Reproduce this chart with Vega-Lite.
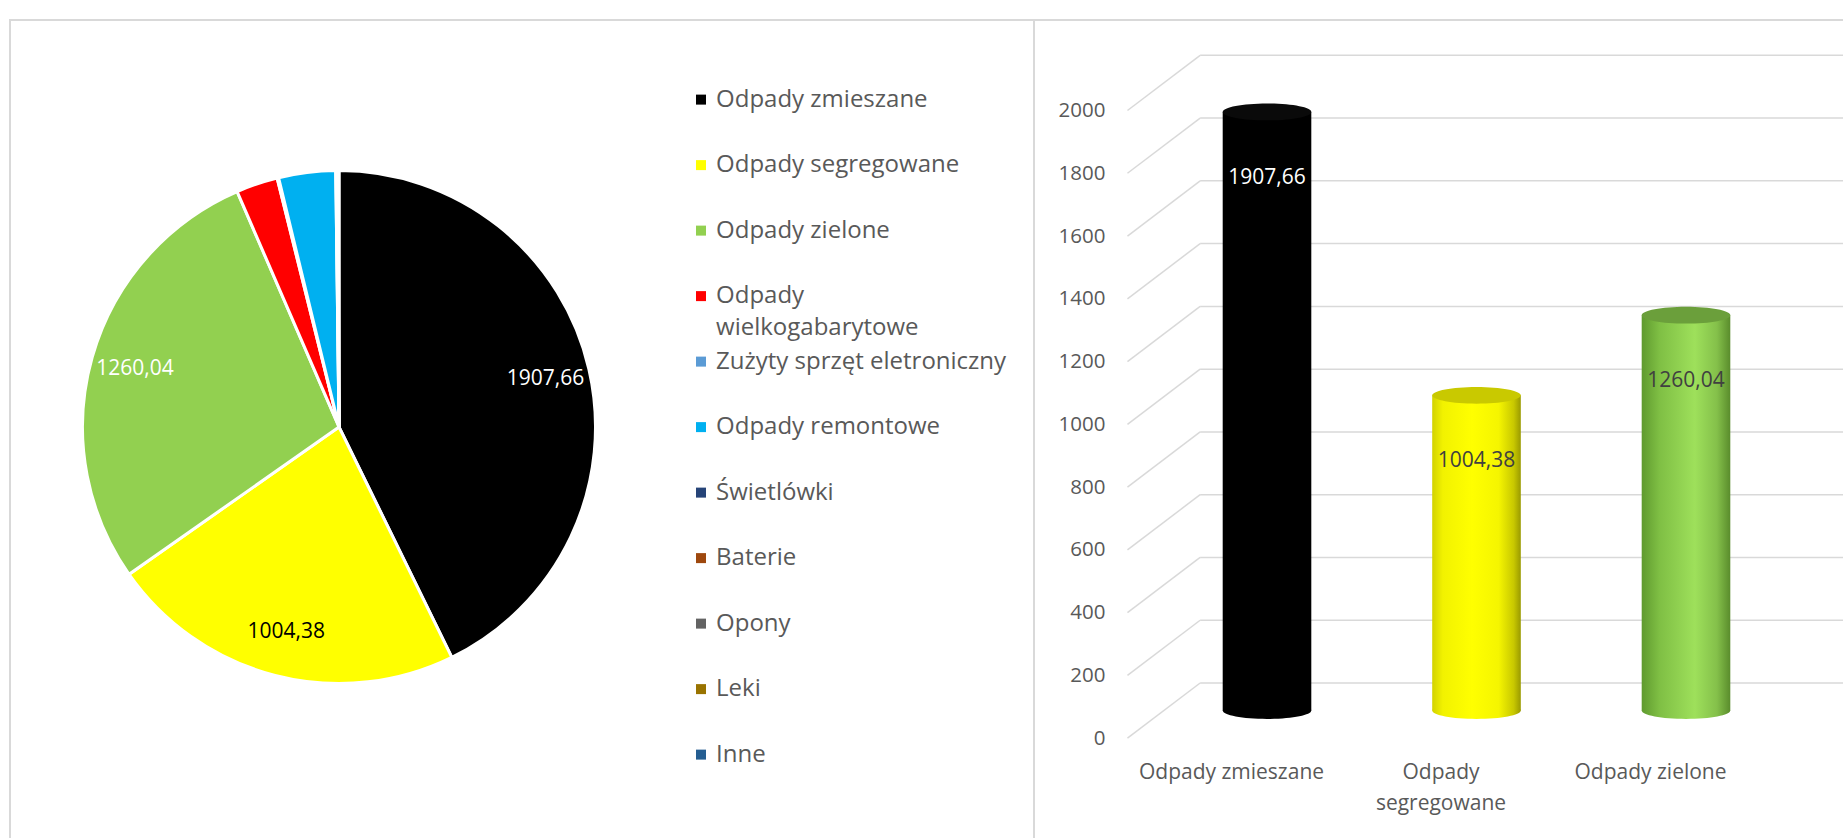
{
  "$schema": "https://vega.github.io/schema/vega-lite/v6.json",
  "background": "#ffffff",
  "padding": {"left": 9, "top": 19, "right": 0, "bottom": 0},
  "spacing": 0,
  "bounds": "flush",
  "datasets": {
    "pie": [
      {"cat": "Odpady zmieszane", "v": 1907.66},
      {"cat": "Odpady segregowane", "v": 1004.38},
      {"cat": "Odpady zielone", "v": 1260.04},
      {"cat": "Odpady wielkogabarytowe", "v": 117},
      {"cat": "Zużyty sprzęt eletroniczny", "v": 4},
      {"cat": "Odpady remontowe", "v": 160},
      {"cat": "Świetlówki", "v": 1},
      {"cat": "Baterie", "v": 2},
      {"cat": "Opony", "v": 3},
      {"cat": "Leki", "v": 1},
      {"cat": "Inne", "v": 2}
    ],
    "bars": [
      {"cat": "Odpady zmieszane", "v": 1907.66},
      {"cat": "Odpady segregowane", "v": 1004.38},
      {"cat": "Odpady zielone", "v": 1260.04}
    ],
    "grid": [
      {"level": 0}, {"level": 200}, {"level": 400}, {"level": 600}, {"level": 800},
      {"level": 1000}, {"level": 1200}, {"level": 1400}, {"level": 1600}, {"level": 1800}, {"level": 2000}
    ]
  },
  "hconcat": [
    {
      "width": 1024,
      "height": 820,
      "view": {"stroke": "#d9d9d9", "strokeWidth": 2},
      "data": {"name": "pie"},
      "layer": [
        {
          "transform": [{"window": [{"op": "row_number", "as": "rn"}]}],
          "encoding": {
            "theta": {"field": "v", "type": "quantitative", "stack": true},
            "order": {"field": "rn", "type": "quantitative"},
            "x": {"datum": 0.3213, "type": "quantitative", "scale": {"domain": [0, 1]}, "axis": null},
            "y": {"datum": 0.5037, "type": "quantitative", "scale": {"domain": [0, 1]}, "axis": null}
          },
          "layer": [
            {
              "mark": {"type": "arc", "outerRadius": 256.5, "stroke": "#ffffff", "strokeWidth": 3},
              "encoding": {
                "color": {
                  "field": "cat",
                  "type": "nominal",
                  "scale": {
                    "domain": ["Odpady zmieszane", "Odpady segregowane", "Odpady zielone", "Odpady wielkogabarytowe", "Zużyty sprzęt eletroniczny", "Odpady remontowe", "Świetlówki", "Baterie", "Opony", "Leki", "Inne"],
                    "range": ["#000000", "#ffff00", "#92d050", "#ff0000", "#5b9bd5", "#00b0f0", "#264478", "#9e480e", "#636363", "#997300", "#255e91"]
                  },
                  "legend": null
                }
              }
            },
            {
              "mark": {"type": "text", "radius": 212, "font": "Open Sans", "fontSize": 21},
              "encoding": {
                "text": {"field": "v", "type": "quantitative", "format": ".2f"},
                "color": {"condition": {"test": "datum.cat == 'Odpady segregowane'", "value": "#000000"}, "value": "#ffffff"},
                "opacity": {"condition": {"test": "datum.v > 500", "value": 1}, "value": 0}
              }
            }
          ]
        },
        {
          "mark": {"type": "point", "shape": "square", "size": 100, "filled": true, "opacity": 1, "strokeWidth": 0},
          "encoding": {
            "x": {"datum": 0.6748, "type": "quantitative", "scale": {"domain": [0, 1]}, "axis": null},
            "y": {"field": "cat", "type": "nominal", "sort": null, "scale": {"type": "band", "paddingInner": 0, "paddingOuter": 0.7595, "align": 0.471}, "axis": null},
            "color": {
              "field": "cat",
              "type": "nominal",
              "scale": {
                "domain": ["Odpady zmieszane", "Odpady segregowane", "Odpady zielone", "Odpady wielkogabarytowe", "Zużyty sprzęt eletroniczny", "Odpady remontowe", "Świetlówki", "Baterie", "Opony", "Leki", "Inne"],
                "range": ["#000000", "#ffff00", "#92d050", "#ff0000", "#5b9bd5", "#00b0f0", "#264478", "#9e480e", "#636363", "#997300", "#255e91"]
              },
              "legend": null
            }
          }
        },
        {
          "mark": {"type": "text", "align": "left", "baseline": "middle", "font": "Open Sans", "fontSize": 24, "color": "#595959", "lineHeight": 32, "lineBreak": {"expr": "regexp(' (?=wielkogabarytowe)')"}},
          "encoding": {
            "x": {"datum": 0.6895, "type": "quantitative", "scale": {"domain": [0, 1]}, "axis": null},
            "y": {"field": "cat", "type": "nominal", "sort": null, "scale": {"type": "band", "paddingInner": 0, "paddingOuter": 0.7595, "align": 0.471}, "axis": null},
            "text": {"field": "cat", "type": "nominal"}
          }
        }
      ],
      "resolve": {"scale": {"y": "independent"}}
    },
    {
      "width": 810,
      "height": 820,
      "view": {"stroke": "#d9d9d9", "strokeWidth": 2},
      "layer": [
        {
          "data": {"name": "grid"},
          "mark": {"type": "rule", "yOffset": -27.6, "color": "#d9d9d9", "strokeWidth": 1.5},
          "encoding": {
            "y": {
              "field": "level", "type": "quantitative",
              "scale": {"domain": [-412.3, 2200.4], "nice": false, "zero": false},
              "axis": {"values": [0, 200, 400, 600, 800, 1000, 1200, 1400, 1600, 1800, 2000], "format": "d", "orient": "left", "offset": -93.5, "labelPadding": 22.5, "ticks": false, "tickSize": 0, "domain": false, "grid": false, "labelOffset": 27.6, "labelFont": "Open Sans", "labelFontSize": 20.5, "labelColor": "#595959", "title": null}
            },
            "x": {"datum": 0.2051, "type": "quantitative", "scale": {"domain": [0, 1]}, "axis": null},
            "x2": {"datum": 1}
          }
        },
        {
          "data": {"name": "grid"},
          "mark": {"type": "rule", "yOffset": 27.6, "y2Offset": -27.6, "color": "#d9d9d9", "strokeWidth": 1.5},
          "encoding": {
            "y": {
              "field": "level", "type": "quantitative",
              "scale": {"domain": [-412.3, 2200.4], "nice": false, "zero": false},
              "axis": {"values": [0, 200, 400, 600, 800, 1000, 1200, 1400, 1600, 1800, 2000], "format": "d", "orient": "left", "offset": -93.5, "labelPadding": 22.5, "ticks": false, "tickSize": 0, "domain": false, "grid": false, "labelOffset": 27.6, "labelFont": "Open Sans", "labelFontSize": 20.5, "labelColor": "#595959", "title": null}
            },
            "y2": {"field": "level"},
            "x": {"datum": 0.1154, "type": "quantitative", "scale": {"domain": [0, 1]}, "axis": null},
            "x2": {"datum": 0.2051}
          }
        },
        {
          "data": {"name": "bars"},
          "encoding": {
            "x": {
              "field": "cat", "type": "nominal", "sort": null,
              "scale": {"type": "band", "paddingInner": 0, "paddingOuter": 0.4332, "align": 0.7066},
              "axis": {"orient": "bottom", "offset": -79, "labelPadding": 0, "ticks": false, "tickSize": 0, "domain": false, "grid": false, "labelOffset": -35.5, "labelAngle": 0, "labelFont": "Open Sans", "labelFontSize": 21, "labelColor": "#595959", "labelLineHeight": 31, "labelLimit": 400, "labelExpr": "datum.label == 'Odpady segregowane' ? ['Odpady', 'segregowane'] : datum.label", "title": null}
            },
            "y": {
              "field": "v", "type": "quantitative",
              "scale": {"domain": [-412.3, 2200.4], "nice": false, "zero": false},
              "axis": {"values": [0, 200, 400, 600, 800, 1000, 1200, 1400, 1600, 1800, 2000], "format": "d", "orient": "left", "offset": -93.5, "labelPadding": 22.5, "ticks": false, "tickSize": 0, "domain": false, "grid": false, "labelOffset": 27.6, "labelFont": "Open Sans", "labelFontSize": 20.5, "labelColor": "#595959", "title": null}
            }
          },
          "layer": [
            {
              "mark": {"type": "point", "shape": "M -1 0 C -1 -0.105 -0.5523 -0.19 0 -0.19 C 0.5523 -0.19 1 -0.105 1 0 C 1 0.105 0.5523 0.19 0 0.19 C -0.5523 0.19 -1 0.105 -1 0 Z", "size": 7850, "filled": true, "opacity": 1, "strokeWidth": 0},
              "encoding": {
                "y": {
                  "datum": 0, "type": "quantitative",
                  "scale": {"domain": [-412.3, 2200.4], "nice": false, "zero": false},
                  "axis": {"values": [0, 200, 400, 600, 800, 1000, 1200, 1400, 1600, 1800, 2000], "format": "d", "orient": "left", "offset": -93.5, "labelPadding": 22.5, "ticks": false, "tickSize": 0, "domain": false, "grid": false, "labelOffset": 27.6, "labelFont": "Open Sans", "labelFontSize": 20.5, "labelColor": "#595959", "title": null}
                },
                "fill": {
                  "condition": [
                    {"test": "datum.cat == 'Odpady segregowane'", "value": {"gradient": "linear", "x1": 0, "y1": 0, "x2": 1, "y2": 0, "stops": [{"offset": 0, "color": "#d2d200"}, {"offset": 0.12, "color": "#f2f200"}, {"offset": 0.45, "color": "#ffff00"}, {"offset": 0.75, "color": "#f5f500"}, {"offset": 0.92, "color": "#c8c800"}, {"offset": 1, "color": "#9a9a00"}]}},
                    {"test": "datum.cat == 'Odpady zielone'", "value": {"gradient": "linear", "x1": 0, "y1": 0, "x2": 1, "y2": 0, "stops": [{"offset": 0, "color": "#5f9a2f"}, {"offset": 0.2, "color": "#7fbf44"}, {"offset": 0.6, "color": "#9ee05b"}, {"offset": 0.85, "color": "#84c04a"}, {"offset": 1, "color": "#5a8c2c"}]}}
                  ],
                  "value": "#000000"
                }
              }
            },
            {
              "mark": {"type": "bar", "width": 88.6},
              "encoding": {
                "y2": {"datum": 0},
                "fill": {
                  "condition": [
                    {"test": "datum.cat == 'Odpady segregowane'", "value": {"gradient": "linear", "x1": 0, "y1": 0, "x2": 1, "y2": 0, "stops": [{"offset": 0, "color": "#d2d200"}, {"offset": 0.12, "color": "#f2f200"}, {"offset": 0.45, "color": "#ffff00"}, {"offset": 0.75, "color": "#f5f500"}, {"offset": 0.92, "color": "#c8c800"}, {"offset": 1, "color": "#9a9a00"}]}},
                    {"test": "datum.cat == 'Odpady zielone'", "value": {"gradient": "linear", "x1": 0, "y1": 0, "x2": 1, "y2": 0, "stops": [{"offset": 0, "color": "#5f9a2f"}, {"offset": 0.2, "color": "#7fbf44"}, {"offset": 0.6, "color": "#9ee05b"}, {"offset": 0.85, "color": "#84c04a"}, {"offset": 1, "color": "#5a8c2c"}]}}
                  ],
                  "value": "#000000"
                }
              }
            },
            {
              "mark": {"type": "point", "shape": "M -1 0 C -1 -0.105 -0.5523 -0.19 0 -0.19 C 0.5523 -0.19 1 -0.105 1 0 C 1 0.105 0.5523 0.19 0 0.19 C -0.5523 0.19 -1 0.105 -1 0 Z", "size": 7850, "filled": true, "opacity": 1, "strokeWidth": 0},
              "encoding": {
                "fill": {
                  "condition": [
                    {"test": "datum.cat == 'Odpady segregowane'", "value": "#c9c900"},
                    {"test": "datum.cat == 'Odpady zielone'", "value": "#6b9f3b"}
                  ],
                  "value": "#0a0a0a"
                }
              }
            },
            {
              "mark": {"type": "text", "dy": 66, "font": "Open Sans", "fontSize": 21},
              "encoding": {
                "text": {"field": "v", "type": "quantitative", "format": ".2f"},
                "color": {"condition": {"test": "datum.cat == 'Odpady zmieszane'", "value": "#ffffff"}, "value": "#404040"}
              }
            }
          ]
        }
      ],
      "resolve": {"scale": {"x": "independent"}}
    }
  ],
  "config": {
    "locale": {"number": {"decimal": ",", "thousands": " ", "grouping": [3], "currency": ["", ""]}},
    "view": {"stroke": "#d9d9d9", "strokeWidth": 2},
    "font": "Open Sans"
  }
}
